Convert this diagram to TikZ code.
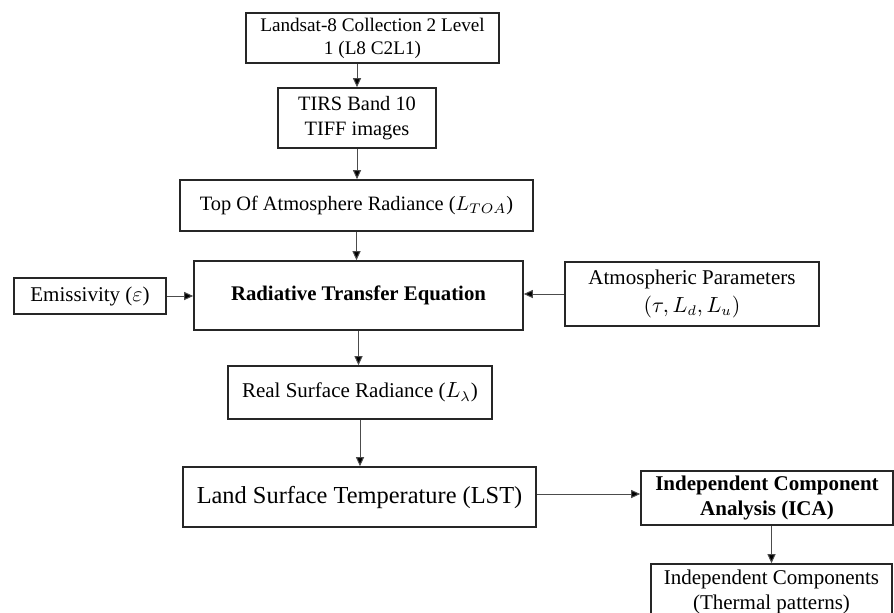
\documentclass[tikz,border=0pt]{standalone}
\usepackage{fontspec}
\setmainfont{Liberation Serif}
\usetikzlibrary{arrows.meta}

\begin{document}
\begin{tikzpicture}[x=0.5pt, y=-0.5pt,
  box/.style={draw=black!85, line width=0.8pt, align=center, inner sep=0pt,
    font=\fontsize{10.2}{12.5}\selectfont},
  arr/.style={draw=black!70, line width=0.5pt, -{Triangle[length=4.5pt,width=4pt,fill=black]}}]
  \useasboundingbox (0,0) rectangle (894,612);

  \node[box, minimum width=126.5pt, minimum height=25pt, font=\fontsize{9.6}{11.5}\selectfont]
    (land) at (372.5,38) {Landsat-8 Collection 2 Level\\ 1 (L8 C2L1)};
  \node[box, minimum width=79pt, minimum height=30pt] (tirs) at (357,118) {TIRS Band 10\\ TIFF images};
  \node[box, minimum width=176.5pt, minimum height=25.5pt] (toa) at (356.5,205.5)
    {Top Of Atmosphere Radiance ($L_{TOA}$)};
  \node[box, minimum width=164.5pt, minimum height=34.5pt, font=\bfseries\fontsize{10.4}{12.5}\selectfont]
    (rte) at (358.5,295.5) {Radiative Transfer Equation};
  \node[box, minimum width=76pt, minimum height=18pt, font=\fontsize{10.5}{12.5}\selectfont]
    (emis) at (90,296) {Emissivity ($\varepsilon$)};
  \node[box, minimum width=127pt, minimum height=32pt, font=\fontsize{10.5}{14}\selectfont]
    (atm) at (692,294) {Atmospheric Parameters\\ $(\tau, L_d, L_u)$};
  \node[box, minimum width=132pt, minimum height=26.5pt, font=\fontsize{10.5}{12.5}\selectfont]
    (real) at (360,392.5) {Real Surface Radiance ($L_\lambda$)};
  \node[box, minimum width=176.5pt, minimum height=30pt, font=\fontsize{12.2}{15}\selectfont]
    (lst) at (359.5,497) {Land Surface Temperature (LST)};
  \node[box, minimum width=126pt, minimum height=27pt, font=\bfseries\fontsize{10.5}{12.5}\selectfont]
    (ica) at (767,498) {Independent Component\\ Analysis (ICA)};
  \node[box, minimum width=120.5pt, minimum height=28pt, font=\fontsize{10.5}{12.5}\selectfont]
    (ic) at (771.5,592) {Independent Components\\ (Thermal patterns)};

  \draw[arr] (land.south -| tirs.north) -- (tirs.north);
  \draw[arr] (tirs.south) -- (tirs.south |- toa.north);
  \draw[arr] (toa.south) -- (toa.south |- rte.north);
  \draw[arr] (emis.east) -- (emis.east -| rte.west);
  \draw[arr] (atm.west) -- (atm.west -| rte.east);
  \draw[arr] (rte.south) -- (rte.south |- real.north);
  \draw[arr] (real.south) -- (real.south |- lst.north);
  \draw[arr] ([yshift=1.5pt]lst.east) -- ([yshift=1.5pt]lst.east -| ica.west);
  \draw[arr] (ica.south -| ic.north) -- (ic.north);
\end{tikzpicture}
\end{document}
